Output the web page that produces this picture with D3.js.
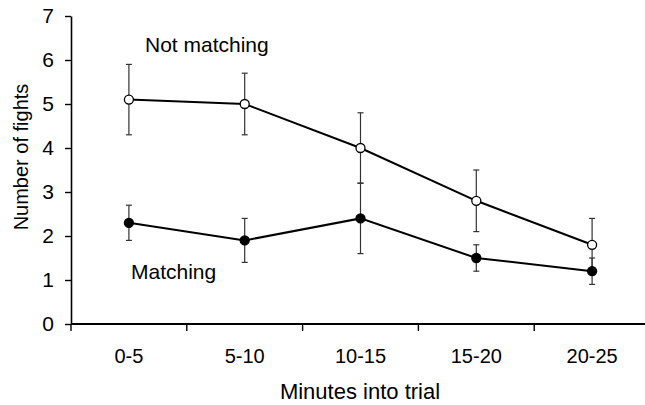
<!DOCTYPE html>
<html>
<head>
<meta charset="utf-8">
<script src="https://cdn.jsdelivr.net/npm/d3@7"></script>
<style>
  html, body { margin: 0; padding: 0; background: #fff; }
  svg { display: block; font-family: Arial, "Liberation Sans", sans-serif; }
</style>
</head>
<body>
<div id="chart"></div>
<script>
// data
const categories = ['0-5', '5-10', '10-15', '15-20', '20-25'];
const notMatching = [5.1, 5.0, 4.0, 2.8, 1.8];
const notMatchingErr = [0.8, 0.7, 0.8, 0.7, 0.6];
const matching = [2.3, 1.9, 2.4, 1.5, 1.2];
const matchingErr = [0.4, 0.5, 0.8, 0.3, 0.3];
const yTicks = [0, 1, 2, 3, 4, 5, 6, 7];

const width = 645;
const height = 405;

function drawChart() {
  const svg = d3.select('#chart').append('svg').attr('width', width).attr('height', height);

  const x = d3.scaleBand().domain(categories).range([71, 650]);
  const y = d3.scaleLinear().domain([0, 7]).range([324, 16]);
  const cx = (c) => x(c) + x.bandwidth() / 2;

  // y axis
  const yAxis = svg.append('g')
    .attr('transform', 'translate(71,0)')
    .call(d3.axisLeft(y).tickValues(yTicks).tickFormat(d3.format('d'))
      .tickSize(6).tickPadding(11).tickSizeOuter(0));
  yAxis.select('.domain').attr('stroke', '#000').attr('stroke-width', 1.6);
  yAxis.selectAll('.tick line').attr('stroke', '#000').attr('stroke-width', 1.4);
  yAxis.selectAll('.tick text').attr('font-size', 21).attr('fill', '#000')
    .attr('font-family', 'Arial, "Liberation Sans", sans-serif');

  // x axis
  const xAxis = svg.append('g');
  xAxis.append('line')
    .attr('x1', 71).attr('x2', width).attr('y1', y(0)).attr('y2', y(0))
    .attr('stroke', '#000').attr('stroke-width', 1.8);
  xAxis.selectAll('.xtick')
    .data(categories)
    .enter()
    .append('line')
    .attr('class', 'xtick')
    .attr('x1', (d) => x(d)).attr('x2', (d) => x(d))
    .attr('y1', y(0)).attr('y2', y(0) + 7)
    .attr('stroke', '#000').attr('stroke-width', 1.4);
  xAxis.selectAll('.xlabel')
    .data(categories)
    .enter()
    .append('text')
    .attr('class', 'xlabel')
    .attr('x', cx)
    .attr('y', 363)
    .attr('text-anchor', 'middle')
    .attr('font-size', 20)
    .text((d) => d);

  // axis titles
  svg.append('text')
    .attr('x', 360).attr('y', 399)
    .attr('text-anchor', 'middle')
    .attr('font-size', 22)
    .text('Minutes into trial');
  svg.append('text')
    .attr('transform', 'translate(28,157) rotate(-90)')
    .attr('text-anchor', 'middle')
    .attr('font-size', 20)
    .text('Number of fights');

  const series = [
    { values: notMatching, err: notMatchingErr, fill: '#fff' },
    { values: matching, err: matchingErr, fill: '#000' },
  ];

  // error bars
  series.forEach((s) => {
    const g = svg.append('g').attr('stroke', '#333').attr('stroke-width', 1.2);
    categories.forEach((c, i) => {
      const lo = y(s.values[i] - s.err[i]);
      const hi = y(s.values[i] + s.err[i]);
      g.append('line').attr('x1', cx(c)).attr('x2', cx(c)).attr('y1', lo).attr('y2', hi);
      g.append('line').attr('x1', cx(c) - 3).attr('x2', cx(c) + 3).attr('y1', lo).attr('y2', lo);
      g.append('line').attr('x1', cx(c) - 3).attr('x2', cx(c) + 3).attr('y1', hi).attr('y2', hi);
    });
  });

  // lines and markers
  const line = d3.line().x((d, i) => cx(categories[i])).y((d) => y(d));
  series.forEach((s) => {
    svg.append('path')
      .datum(s.values)
      .attr('d', line)
      .attr('fill', 'none')
      .attr('stroke', '#000')
      .attr('stroke-width', 2);
  });
  series.forEach((s) => {
    svg.append('g')
      .selectAll('circle')
      .data(s.values)
      .enter()
      .append('circle')
      .attr('cx', (d, i) => cx(categories[i]))
      .attr('cy', (d) => y(d))
      .attr('r', 4.5)
      .attr('fill', s.fill)
      .attr('stroke', '#000')
      .attr('stroke-width', 1.3);
  });

  // series labels
  svg.append('text').attr('x', 145).attr('y', 52).attr('font-size', 21).text('Not matching');
  svg.append('text').attr('x', 131).attr('y', 279).attr('font-size', 21).text('Matching');
}

document.addEventListener('DOMContentLoaded', drawChart);
</script>
</body>
</html>
